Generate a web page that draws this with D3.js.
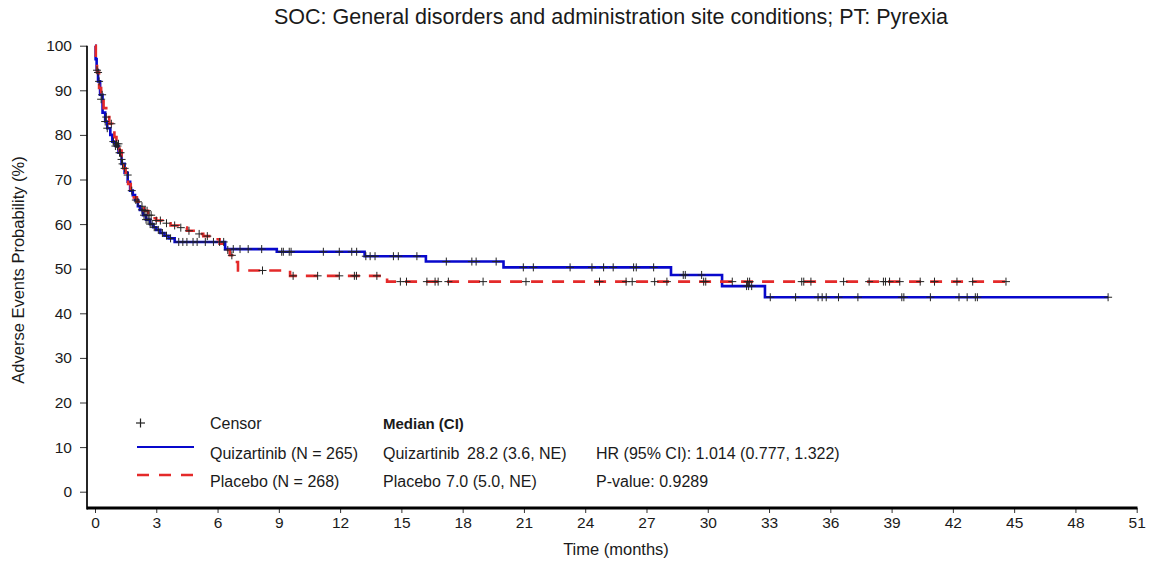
<!DOCTYPE html>
<html><head><meta charset="utf-8">
<script src="https://cdn.jsdelivr.net/npm/d3@7"></script>
<style>
body{margin:0;background:#fff;}
svg{display:block;font-family:"Liberation Sans",Arial,sans-serif;}
</style></head>
<body>
<svg id="chart" width="1154" height="562"></svg>
<script>
// ---- data ----
const titleText = "SOC: General disorders and administration site conditions; PT: Pyrexia";
const xTicks = [0,3,6,9,12,15,18,21,24,27,30,33,36,39,42,45,48,51];
const yTicks = [0,10,20,30,40,50,60,70,80,90,100];

// Quizartinib step curve (time in months, probability %)
const quizTimes = [0,0.03,0.08,0.15,0.25,0.37,0.5,0.6,0.75,0.85,1.0,1.15,1.3,1.45,1.6,1.72,1.85,1.96,2.1,2.2,2.35,2.5,2.7,2.85,3.0,3.2,3.4,3.6,3.9,6.37,8.9,13.2,16.2,20.0,28.2,30.7,32.8,49.6];
const quizVals  = [100,97,94.5,92,89,85,83,81.5,80,78.5,77.5,76,73.5,71.5,69.5,67.5,66.5,65.4,64,63.2,62,61,60,59.3,58.7,58,57.4,56.8,56,54.4,53.8,52.8,51.6,50.3,48.6,46.1,43.6,43.6];
const quizCensor = [0.1,0.2,0.35,0.5,0.6,0.9,1.0,1.1,1.2,1.25,1.35,2.0,2.3,2.4,2.5,2.6,2.7,2.8,2.9,3.1,3.3,3.5,3.7,4.1,4.3,4.5,4.8,5.0,5.4,5.8,6.1,6.3,
  6.77,7.1,7.5,8.16,9.14,9.22,9.51,9.6,11.18,11.96,12.57,12.81,13.26,13.47,13.71,14.61,14.85,15.76,17.2,18.45,18.66,19.64,
  20.97,21.46,23.26,24.33,24.9,25.37,26.37,26.5,27.35,28.8,28.9,29.7,31.9,32.0,32.15,
  33.06,34.3,35.4,35.6,35.8,36.4,37.35,39.5,39.6,40.9,42.3,42.7,43.1,43.2,49.6];

// Placebo step curve
const placTimes = [0,0.04,0.1,0.2,0.3,0.42,0.55,0.7,0.85,0.95,1.05,1.2,1.3,1.4,1.5,1.62,1.75,1.9,2.05,2.2,2.4,2.6,2.8,3.0,3.3,3.7,4.1,4.5,4.9,5.3,5.7,6.1,6.4,6.6,6.8,7.0,9.55,14.3,44.6];
const placVals  = [100,97,94,90.5,88,86,84,82.5,81,79.5,78,76.5,74.5,72.5,71,69,67.5,66,65,64,63,62,61.3,60.8,60.2,59.7,59.2,58.5,57.8,57.3,56.6,55.6,54.2,53,51.5,49.6,48.4,47.1,47.1];
const placCensor = [0.15,0.3,0.55,0.8,1.05,1.15,1.3,1.45,1.6,1.8,2.1,2.3,2.45,2.55,2.65,2.75,3.0,3.2,3.5,3.9,4.2,4.6,5.1,5.5,6.5,6.7,
  8.2,9.7,10.9,11.96,12.7,12.8,13.8,14.95,15.25,16.25,16.65,16.8,17.3,19.0,21.1,
  24.7,26.0,26.3,27.4,28.0,29.8,29.9,31.2,31.95,32.05,34.6,34.7,35.05,36.65,37.9,38.6,38.7,38.9,39.4,40.4,41.1,42.2,42.97,44.6];

const legendLabels = ["Quizartinib (N = 265)","Placebo (N = 268)"];
const medianNames = ["Quizartinib","Placebo"];
const medianVals = ["28.2 (3.6, NE)","7.0 (5.0, NE)"];
const statsText = ["HR (95% CI): 1.014 (0.777, 1.322)","P-value: 0.9289"];

// ---- layout ----
const svg = d3.select("#chart");
const x = d3.scaleLinear().domain([0,51]).range([95,1136.7]);
const y = d3.scaleLinear().domain([0,100]).range([491.7,45.7]);
const axisY = 508, axisX = 87;
const blue = "#0808cc", red = "#e42a2a", ink = "#1a1a1a";

// title
svg.append("text").attr("x",611).attr("y",24).attr("text-anchor","middle")
  .attr("font-size",21.5).attr("fill",ink).text(titleText);

// axes
const gx = svg.append("g").attr("transform",`translate(0,${axisY})`)
  .call(d3.axisBottom(x).tickValues(xTicks).tickSize(5).tickPadding(4).tickSizeOuter(0));
gx.select(".domain").remove();
gx.selectAll("text").attr("font-size",15.5).attr("fill",ink).attr("font-family","Liberation Sans, Arial, sans-serif");
gx.selectAll("line").attr("stroke","#333");
svg.append("line").attr("x1",axisX).attr("x2",1137.5).attr("y1",axisY).attr("y2",axisY)
  .attr("stroke","#000").attr("stroke-width",2.8);

const gy = svg.append("g").attr("transform",`translate(${axisX},0)`)
  .call(d3.axisLeft(y).tickValues(yTicks).tickSize(7).tickPadding(8).tickSizeOuter(0));
gy.select(".domain").remove();
gy.selectAll("text").attr("font-size",15.5).attr("fill",ink).attr("font-family","Liberation Sans, Arial, sans-serif");
gy.selectAll("line").attr("stroke","#333");
svg.append("line").attr("x1",axisX).attr("x2",axisX).attr("y1",y(100)).attr("y2",axisY+1.4)
  .attr("stroke","#000").attr("stroke-width",1.7);

// axis labels
svg.append("text").attr("x",616).attr("y",555).attr("text-anchor","middle")
  .attr("font-size",16.5).attr("fill",ink).text("Time (months)");
svg.append("text").attr("transform","translate(24,270) rotate(-90)").attr("text-anchor","middle")
  .attr("font-size",16.5).attr("fill",ink).text("Adverse Events Probability (%)");

// curves
function series(times, vals){ return times.map((t,i)=>({t, v:vals[i]})); }
const quiz = series(quizTimes, quizVals);
const plac = series(placTimes, placVals);
const line = d3.line().x(d=>x(d.t)).y(d=>y(d.v)).curve(d3.curveStepAfter);

function valueAt(data, t){
  let v = data[0].v;
  for (const d of data){ if (d.t <= t) v = d.v; else break; }
  return v;
}

svg.append("path").datum(quiz).attr("d",line).attr("fill","none")
  .attr("stroke",blue).attr("stroke-width",2.6);
svg.append("path").datum(plac).attr("d",line).attr("fill","none")
  .attr("stroke",red).attr("stroke-width",2.6).attr("stroke-dasharray","12,9");

// censor marks
function drawCensor(data, times){
  const g = svg.append("g").attr("stroke","#222").attr("stroke-width",1);
  times.forEach(t=>{
    const cx = x(t), cy = y(valueAt(data,t));
    g.append("line").attr("x1",cx-4).attr("x2",cx+4).attr("y1",cy).attr("y2",cy);
    g.append("line").attr("x1",cx).attr("x2",cx).attr("y1",cy-4).attr("y2",cy+4);
  });
}
drawCensor(plac, placCensor);
drawCensor(quiz, quizCensor);

// legend
const lg = svg.append("g").attr("font-size",16).attr("fill",ink);
const cg = svg.append("g").attr("stroke","#222").attr("stroke-width",1.2);
cg.append("line").attr("x1",136).attr("x2",145).attr("y1",423).attr("y2",423);
cg.append("line").attr("x1",140.5).attr("x2",140.5).attr("y1",418.5).attr("y2",427.5);
lg.append("text").attr("x",210).attr("y",429).text("Censor");
lg.append("text").attr("x",383).attr("y",429).attr("font-weight","bold").attr("font-size",15).text("Median (CI)");
const rowsY = [459, 487];
const lineY = [447, 475];
svg.append("line").attr("x1",137).attr("x2",194).attr("y1",lineY[0]).attr("y2",lineY[0])
  .attr("stroke",blue).attr("stroke-width",2);
svg.append("line").attr("x1",137).attr("x2",194).attr("y1",lineY[1]).attr("y2",lineY[1])
  .attr("stroke",red).attr("stroke-width",2.6).attr("stroke-dasharray","12,10");
legendLabels.forEach((s,i)=> lg.append("text").attr("x",210).attr("y",rowsY[i]).text(s));
medianNames.forEach((s,i)=> lg.append("text").attr("x",383).attr("y",rowsY[i]).text(s));
const medX = [467, 446];
medianVals.forEach((s,i)=> lg.append("text").attr("x",medX[i]).attr("y",rowsY[i]).text(s));
statsText.forEach((s,i)=> lg.append("text").attr("x",596).attr("y",rowsY[i]).text(s));
</script>
</body></html>
